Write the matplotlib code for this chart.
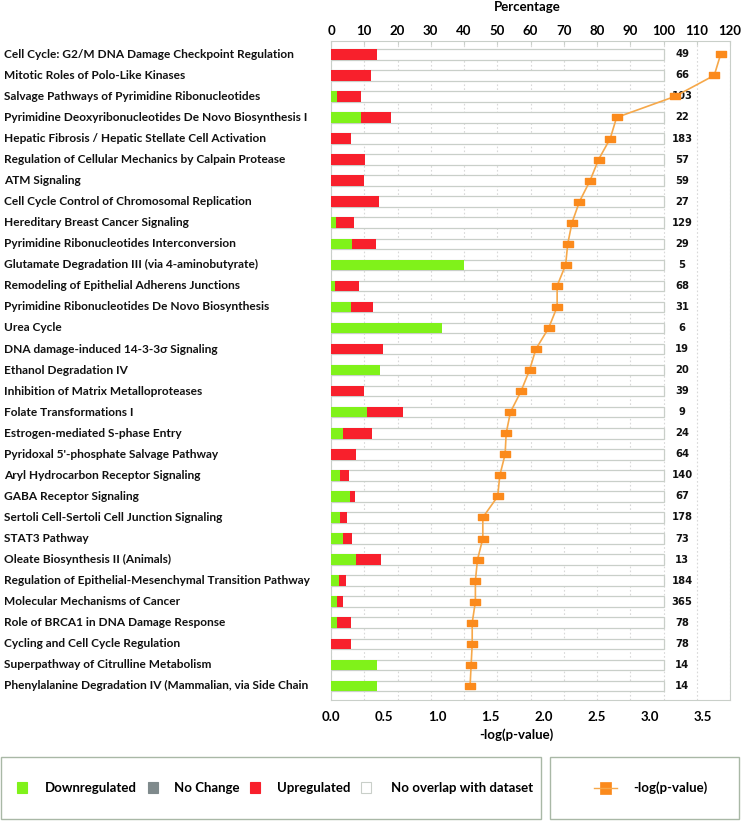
"""IPA canonical pathways: percentage bars (top axis) with -log(p-value) line (bottom axis)."""
import matplotlib
matplotlib.use("Agg")
import matplotlib.pyplot as plt
from matplotlib.patches import Rectangle
from matplotlib.path import Path
from matplotlib.transforms import blended_transform_factory

pathways = [
    "Cell Cycle: G2/M DNA Damage Checkpoint Regulation",
    "Mitotic Roles of Polo-Like Kinases",
    "Salvage Pathways of Pyrimidine Ribonucleotides",
    "Pyrimidine Deoxyribonucleotides De Novo Biosynthesis I",
    "Hepatic Fibrosis / Hepatic Stellate Cell Activation",
    "Regulation of Cellular Mechanics by Calpain Protease",
    "ATM Signaling",
    "Cell Cycle Control of Chromosomal Replication",
    "Hereditary Breast Cancer Signaling",
    "Pyrimidine Ribonucleotides Interconversion",
    "Glutamate Degradation III (via 4-aminobutyrate)",
    "Remodeling of Epithelial Adherens Junctions",
    "Pyrimidine Ribonucleotides De Novo Biosynthesis",
    "Urea Cycle",
    "DNA damage-induced 14-3-3σ Signaling",
    "Ethanol Degradation IV",
    "Inhibition of Matrix Metalloproteases",
    "Folate Transformations I",
    "Estrogen-mediated S-phase Entry",
    "Pyridoxal 5'-phosphate Salvage Pathway",
    "Aryl Hydrocarbon Receptor Signaling",
    "GABA Receptor Signaling",
    "Sertoli Cell-Sertoli Cell Junction Signaling",
    "STAT3 Pathway",
    "Oleate Biosynthesis II (Animals)",
    "Regulation of Epithelial-Mesenchymal Transition Pathway",
    "Molecular Mechanisms of Cancer",
    "Role of BRCA1 in DNA Damage Response",
    "Cycling and Cell Cycle Regulation",
    "Superpathway of Citrulline Metabolism",
    "Phenylalanine Degradation IV (Mammalian, via Side Chain",
]
total_genes = [49, 66, 103, 22, 183, 57, 59, 27, 129, 29, 5, 68, 31, 6, 19, 20,
               39, 9, 24, 64, 140, 67, 178, 73, 13, 184, 365, 78, 78, 14, 14]
down_pct = [0, 0, 1.7, 8.9, 0, 0, 0, 0, 1.5, 6.4, 40.1, 1.1, 6.1, 33.4, 0, 14.8,
            0, 10.7, 3.5, 0, 2.7, 5.7, 2.7, 3.5, 7.4, 2.4, 1.7, 1.9, 0, 13.9, 13.9]
up_pct = [13.9, 12.0, 7.4, 9.0, 6.0, 10.3, 9.9, 14.4, 5.3, 7.2, 0, 7.2, 6.6, 0,
          15.5, 0, 9.9, 11.1, 8.8, 7.5, 2.6, 1.4, 2.0, 2.9, 7.7, 2.0, 2.0, 4.1,
          6.0, 0, 0]
neg_log_p = [3.67, 3.61, 3.24, 2.69, 2.63, 2.52, 2.44, 2.34, 2.27, 2.23, 2.21,
             2.13, 2.13, 2.05, 1.93, 1.87, 1.79, 1.69, 1.65, 1.64, 1.59, 1.57,
             1.43, 1.43, 1.38, 1.36, 1.36, 1.33, 1.33, 1.32, 1.31]
pct_ticks = list(range(0, 121, 10))
p_ticks = [0.0, 0.5, 1.0, 1.5, 2.0, 2.5, 3.0, 3.5]

GREEN = "#80f21a"
RED = "#f8202c"
GREY = "#7f8a8c"
ORANGE = "#fb8a1c"
LINE_ORANGE = "#f6a84a"
FRAME = "#c9cfc9"
FONT = ["Lato", "DejaVu Sans"]

W, H = 741, 821
fig = plt.figure(figsize=(W / 100, H / 100), dpi=100)

# plot area in pixels: x 331..730, y 40.7..699.5
left, right, top, bottom = 331, 730, 40.7, 699.5
ax = fig.add_axes([left / W, 1 - bottom / H, (right - left) / W, (bottom - top) / H])
axp = ax.twiny()   # -log(p-value) scale, drawn above the bars
n = len(pathways)
rows = list(range(n))

# white "no overlap" boxes, then coloured segments
ax.barh(rows, [100] * n, height=0.5, color="white", edgecolor=FRAME,
        linewidth=0.9, zorder=2)
ax.barh(rows, down_pct, height=0.5, color=GREEN, linewidth=0, zorder=3)
ax.barh(rows, up_pct, left=down_pct, height=0.5, color=RED, linewidth=0, zorder=3)

for i, tot in enumerate(total_genes):
    ax.text(105.6, i, str(tot), ha="center", va="center", fontsize=7.2,
            fontweight="bold", family="DejaVu Sans", color="#111111", zorder=4)

ax.set_xlim(0, 120)
ax.set_ylim(n - 0.354, -0.646)
ax.set_yticks([])
ax.set_xticks(pct_ticks)
ax.xaxis.set_ticks_position("top")
ax.xaxis.set_label_position("top")
ax.tick_params(axis="x", which="both", top=True, bottom=False, labeltop=True,
               labelbottom=False, length=3, direction="in", color=FRAME, pad=3,
               labelsize=9.5)
for lab in ax.get_xticklabels():
    lab.set_fontweight("bold")
    lab.set_family(FONT)
ax.grid(axis="x", color="#d8d8d8", linestyle=(0, (1.5, 2)), linewidth=0.8, zorder=0)
ax.set_axisbelow(True)
for sp in ax.spines.values():
    sp.set_color(FRAME)

axp.set_xlim(0, 120 / 31.93)
axp.set_xticks(p_ticks)
axp.set_xticklabels([f"{t:.1f}" for t in p_ticks])
axp.xaxis.set_ticks_position("bottom")
axp.tick_params(axis="x", which="both", top=False, bottom=True, labeltop=False,
                labelbottom=True, length=0, pad=8, labelsize=9.5)
for lab in axp.get_xticklabels():
    lab.set_fontweight("bold")
    lab.set_family(FONT)
for sp in axp.spines.values():
    sp.set_visible(False)

rect_marker = Path([(-1, -0.6), (1, -0.6), (1, 0.6), (-1, 0.6), (-1, -0.6)],
                   [Path.MOVETO, Path.LINETO, Path.LINETO, Path.LINETO, Path.CLOSEPOLY])
axp.plot(neg_log_p, rows, color=LINE_ORANGE, linewidth=1.2, marker=rect_marker,
         markersize=6.5, markerfacecolor=ORANGE, markeredgecolor=ORANGE, zorder=5)

# row labels at the left edge of the figure
trans = blended_transform_factory(fig.transFigure, ax.transData)
for i, name in enumerate(pathways):
    ax.text(4 / W, i, name, transform=trans, ha="left", va="center",
            fontsize=8.6, fontweight="bold", family=FONT, color="#111111",
            clip_on=False)

fig.text(527 / W, 1 - 7 / H, "Percentage", ha="center", va="center",
         fontsize=9.5, fontweight="bold", family=FONT)
fig.text(516 / W, 1 - 735 / H, "-log(p-value)", ha="center", va="center",
         fontsize=9.5, fontweight="bold", family=FONT)

# legend boxes
def px_rect(x0, y0, x1, y1, **kw):
    fig.add_artist(Rectangle((x0 / W, 1 - y1 / H), (x1 - x0) / W, (y1 - y0) / H,
                             transform=fig.transFigure, **kw))

px_rect(1, 757, 541, 819, facecolor="white", edgecolor="#a9b8a6", linewidth=1.0)
px_rect(550, 757, 739, 819, facecolor="white", edgecolor="#a9b8a6", linewidth=1.0)

legend_items = [("Downregulated", GREEN, 16.5, 45),
                ("No Change", GREY, 148, 174),
                ("Upregulated", RED, 249.5, 277),
                ("No overlap with dataset", "white", 361, 391)]
for text, col, sx, tx in legend_items:
    px_rect(sx, 782, sx + 10, 793, facecolor=col,
            edgecolor=FRAME if col == "white" else col, linewidth=0.8)
    fig.text(tx / W, 1 - 788 / H, text, ha="left", va="center", fontsize=9.5,
             fontweight="bold", family=FONT)

fig.add_artist(plt.Line2D([594 / W, 617 / W], [1 - 788 / H] * 2,
                          transform=fig.transFigure, color=LINE_ORANGE, linewidth=1))
px_rect(600, 782, 611, 794, facecolor=ORANGE, edgecolor=ORANGE, linewidth=0.5)
fig.text(633 / W, 1 - 788 / H, "-log(p-value)", ha="left", va="center",
         fontsize=9.5, fontweight="bold", family=FONT)

fig.savefig("out.png", dpi=100)
